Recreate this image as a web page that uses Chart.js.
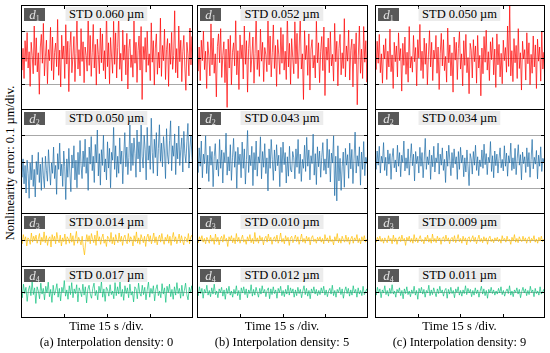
<!DOCTYPE html>
<html>
<head>
<meta charset="utf-8">
<script src="https://cdn.jsdelivr.net/npm/chart.js@4.4.1/dist/chart.umd.min.js"></script>
<style>
  body { margin: 0; background: #fff; font-family: "Liberation Serif", "Times New Roman", serif; }
  #wrap { position: relative; width: 550px; height: 353px; overflow: hidden; }
  .panel { position: absolute; }
  .panel canvas { position: absolute; left: 0; top: 0; }
  .dtag { position: absolute; width: 21px; height: 13px; background: #585858; color: #e4e4e4;
          font-size: 13px; line-height: 13px; text-align: center; font-style: italic; }
  .dtag sub { font-size: 8px; font-style: normal; vertical-align: -2px; }
  .std { position: absolute; height: 14px; line-height: 14px; background: #ececec; color: #000;
         font-size: 12.5px; padding: 0 4px; white-space: nowrap; transform: translateX(-50%); }
  .cap { position: absolute; font-size: 12.5px; white-space: nowrap; transform: translate(-50%, -50%); color: #000; }
  #ylab { position: absolute; left: 10px; top: 163px; font-size: 12.5px; white-space: nowrap;
          transform: translate(-50%, -50%) rotate(-90deg); }
</style>
</head>
<body>
<div id="wrap">
  <div id="ylab">Nonlinearity error: 0.1 µm/div.</div>
</div>
<script>
// nonlinearity error samples, in nm (0.001 µm), 60 s per panel
const d1A = [12,-48,35,-80,64,-15,95,-40,22,-110,58,8,-62,120,-30,75,-55,18,-140,40,
  88,-22,130,-70,5,66,-100,30,-12,115,-50,78,-85,20,55,-35,145,-68,28,-112,
  85,-6,44,-80,125,-25,62,-130,38,98,-58,4,80,-92,16,155,-44,30,-70,110,
  -15,60,-96,40,8,-52,170,-30,84,-72,20,126,-40,50,-105,70,12,-62,112,-20,
  90,-50,26,-82,185,-35,56,-100,76,2,-60,138,-26,94,-78,38,165,-45,16,-90,
  104,-10,48,-66,92,-120,34,70,-38,10,-75,140,-22,58,-95,26,82,-48,118,-160,
  42,-8,76,-56,100,-30,14,-88,132,-18,64,-105,36,90,-64,20,-40,150,-72,46,
  -12,108,-84,30,72,-110,54,-26,96,-45,8,178,-58,34,-78,120,-16,66,-92,22,
  84,-36,-125,58,14,-70,112,-28,80,-52];
const d2A = [-20,-60,10,-85,-15,-120,5,-45,-140,-5,-70,25,-95,-30,-135,0,-50,35,-80,-10,
  -110,15,-55,-100,20,-35,-75,45,-25,-90,-5,-45,55,-65,-15,-125,30,-30,70,-55,
  -10,-95,40,-20,-145,10,-60,50,-40,-115,25,-25,60,-70,5,-100,35,-50,80,-15,
  -65,40,-20,85,-45,15,-110,55,-10,95,-35,20,-80,65,-5,120,-55,30,-90,45,
  -15,100,-40,10,-70,75,-25,50,-100,35,5,130,-30,60,-60,20,-45,90,-10,40,
  -85,25,110,-20,55,-50,15,140,-35,70,
  -15,90,30,-60,120,10,75,-40,150,20,-25,100,45,-70,130,5,60,-30,165,35,
  -45,85,15,110,-55,50,140,0,70,-20,95,40,-65,125,25,-10,80,155,-35,60,
  20,105,-50,70,10,135,-15,45,90,-40,115,30,-5,75,145,-25,55,100,15,-30];
const d3A = [6,-14,20,-4,12,-22,8,2,-16,26,-8,14,-2,18,-12,4,24,-18,10,-6,
  30,-10,16,-20,6,12,-26,20,-4,14,-14,28,2,-10,18,-22,8,-6,22,-16,
  12,4,-12,26,-8,16,-20,6,32,-12,10,-2,-18,14,-28,-55,-10,20,-6,16,
  -14,24,4,-10,18,-20,34,-4,12,-16,8,22,-12,2,-24,14,6,-8,28,-14,
  10,-18,20,0,-10,26,-6,14,-20,8,18,-4,-14,24,-8,12,2,-22,16,-6,
  30,-12,8,-16,20,4,-10,14,-24,10,22,-6,16,-14,4,26,-10,12,-18,6,
  18,-8,24,-2,-16,10,-4,20,-12,14,-20,8,28,-6,12,-14,2,22,-10,16,
  -4,-18,12,6,-8,24,-14,10,18,-6];
const d4A = [12,-22,30,-6,18,-36,8,24,-14,40,-10,16,-44,20,4,-26,34,-8,14,-30,
  22,-4,38,-18,10,-40,26,-12,6,32,-20,14,-34,18,-2,44,-16,8,-28,24,
  -10,36,-22,12,-6,28,-38,16,2,-18,30,-12,20,-42,10,26,-8,-24,14,34,
  -14,6,-30,22,-4,40,-20,12,-36,18,8,-16,28,-10,4,-26,36,-14,20,-8,
  42,-18,10,-32,24,-6,16,-22,30,-12,2,-38,20,12,-26,34,-4,-16,26,-10,
  18,-30,8,38,-20,14,-6,24,-34,10,28,-14,4,-22,32,-8,16,-40,22,-2,
  30,-18,10,-28,20,-12,36,-6,14,-24,26,-16,6,34,-10,-30,18,-4,24,-20];

const d1B = [18,-52,40,-88,66,-12,100,-46,24,-118,60,6,-70,128,-28,74,-60,14,-150,42,
  90,-20,110,-76,8,60,-96,32,-190,70,-40,84,-104,20,56,-32,140,-66,26,-122,
  86,-4,48,-82,120,-26,64,-132,34,96,-56,2,78,-98,16,160,-46,28,-72,108,
  -14,58,-92,38,10,-54,150,-28,82,-74,18,124,-42,46,-110,68,10,-64,114,-22,
  88,-48,24,-84,170,-36,54,-102,72,0,-62,136,-24,92,-80,36,155,-44,14,-160,
  102,-8,46,-68,90,-124,32,68,-40,8,-78,138,-20,56,-96,24,80,-50,116,-145,
  40,-10,74,-58,98,-32,12,-90,130,-16,62,-108,34,88,-66,18,-42,148,-74,44,
  -14,104,-86,28,70,-112,52,-24,94,-180,6,120,-60,32,-80,118,-18,64,-94,20];
const d2B = [14,-42,52,-18,78,-62,28,-8,98,-46,24,-76,58,-14,38,-96,18,68,-32,8,
  -56,84,-26,44,-82,34,-4,108,-52,18,-36,64,-72,14,88,-22,38,-102,54,-12,
  28,-62,74,-26,48,-86,8,118,-42,24,-16,58,-92,34,-32,78,-56,18,-6,94,
  -66,38,-22,68,-46,14,-112,48,-26,84,8,-72,44,-36,64,-16,24,-96,54,-42,
  74,-12,34,-82,18,-56,58,-32,-40,38,14,-66,48,-22,84,-46,28,-76,8,-26,
  62,-38,92,-18,44,-70,22,-8,104,-52,30,-88,56,-20,40,-60,16,72,-34,10,
  -48,86,-24,46,-78,32,-6,98,-130,20,-150,60,-74,12,-110,-20,36,-98,50,-14,
  26,-64,70,-28,46,-84,10,112,-44,22,-18,56,-90,36,-30,76,-54,16,-8,50];
const d3B = [4,-10,12,-3,16,-8,6,-14,10,0,-12,18,-5,8,-16,22,-6,10,-18,4,
  14,-8,20,-4,6,-24,12,-2,16,-10,8,-14,24,-6,10,-12,4,18,-8,2,
  -16,12,-4,20,-10,6,-14,28,-6,8,-12,16,-2,10,-18,6,14,-8,22,-4,
  10,-16,4,12,-6,18,-12,2,26,-8,6,-14,16,-4,10,-20,8,14,-10,4,
  18,-6,12,-16,2,22,-8,6,-12,14,-4,10,-18,8,16,-6,4,-12,10,-2,
  12,-8,6,-14,20,-2,8,-10,16,-6,2,-18,12,-4,24,-10,6,-12,14,0,
  -8,18,-6,10,-16,4,14,-12,8,-2,20,-10,6,-14,12,-4,16,-8,2,-6];
const d4B = [8,-14,20,-6,14,-24,10,-4,26,-12,6,-18,16,-8,30,-10,4,-22,12,-2,
  18,-16,8,-28,14,-6,22,-12,4,-20,10,-8,24,-14,6,-30,16,-4,20,-10,
  12,-22,8,-6,28,-16,10,-12,18,-2,-20,14,-8,24,-4,10,-18,6,16,-26,
  12,-10,20,-6,8,-24,14,-2,22,-14,6,-18,10,-8,26,-12,16,-4,12,-20,
  8,-14,18,-6,10,-22,4,24,-10,14,-16,6,-26,12,-4,20,-8,10,-14,6,
  -10,16,-4,22,-12,8,-18,4,14,-8,26,-14,6,-20,10,-2,18,-10,12,-24,
  4,20,-6,14,-16,8,-12,24,-4,10,-20,16,-8,6,-14,22,-10,2,12,-18];

const d1C = [28,-46,62,-22,88,-58,14,-98,48,-6,72,-84,24,-36,108,-54,10,-118,58,-16,
  44,-74,94,-12,34,-128,54,-30,78,-64,20,-94,118,-40,4,-56,84,-16,38,-108,
  68,-2,126,-50,24,-80,74,-26,54,-104,10,102,-36,58,-88,28,-6,84,-60,40,
  -122,14,92,-32,68,-50,4,-94,112,-20,48,-70,18,-132,78,-10,58,-84,34,98,
  -44,14,-108,64,-30,88,-58,0,-138,54,28,-78,68,-16,44,-98,84,-40,8,-146,
  36,-62,80,-18,104,-48,22,-88,60,-8,76,-66,32,-114,90,-28,50,-74,16,-100,
  66,-12,38,-56,120,-34,200,-70,26,-92,72,-20,46,-80,110,-42,18,-124,62,-6,
  30,-86,94,-24,56,-104,12,-60,82,-36,48,-118,70,-14,40,-90,100,-44,20,-150];
const d2C = [10,-30,40,-14,58,-44,20,-6,72,-34,16,-54,44,-10,30,-68,14,50,-24,6,
  -40,62,-18,34,-58,24,-4,78,-36,14,-26,48,-52,10,68,-16,28,-74,38,-8,
  20,-44,54,-18,34,-62,6,88,-30,18,-12,44,-68,24,-20,58,-40,14,-4,70,
  -48,28,-14,52,-34,8,-80,40,-18,62,4,-54,34,-24,48,-10,18,-68,38,-30,
  54,-6,24,-58,14,-40,44,-20,-92,30,10,-48,38,-14,62,-34,18,-54,6,-20,
  44,-26,66,-12,30,-50,16,-4,76,-38,22,-62,40,-16,28,-44,12,52,-24,8,
  -36,60,-18,32,-56,22,-6,70,-34,14,-28,50,-50,10,64,-14,26,-70,36,-8,
  18,-42,52,-20,34,-60,8,84,-28,16,-10,42,-66,24,-18,56,-38,12,-2,30];
const d3C = [4,-8,10,-2,14,-6,6,-12,8,0,-10,16,-4,6,-14,18,-6,8,-16,4,
  12,-6,18,-4,6,-20,10,-2,14,-8,6,-12,20,-6,8,-10,4,16,-6,2,
  -14,10,-4,18,-8,6,-12,22,-6,6,-10,14,-2,8,-16,6,12,-6,18,-4,
  8,-14,4,10,-6,16,-10,2,20,-6,6,-12,14,-4,8,-18,6,12,-8,4,
  16,-6,10,-14,2,18,-6,6,-10,12,-4,8,-16,6,14,-6,4,-10,8,-2,
  10,-6,4,-12,16,-2,6,-8,14,-4,2,-16,10,-4,20,-8,6,-10,12,0,
  -6,14,-4,8,-12,4,12,-10,6,-2,16,-8,4,-12,10,-4,14,-6,2,-4];
const d4C = [6,-12,18,-4,12,-22,8,-4,24,-10,6,-16,14,-6,28,-8,4,-20,10,-2,
  16,-14,6,-26,12,-6,20,-10,4,-18,8,-6,22,-12,6,-28,14,-4,18,-8,
  10,-20,6,-4,26,-14,8,-10,16,-2,-18,12,-6,22,-4,8,-16,6,14,-24,
  10,-8,18,-6,6,-22,12,-2,20,-12,6,-16,8,-6,24,-10,14,-4,10,-18,
  6,-12,16,-6,8,-20,4,22,-8,12,-14,6,-24,10,-4,18,-6,8,-12,4,
  -8,14,-4,20,-10,6,-16,2,12,-6,24,-12,4,-18,8,-2,16,-8,10,-22,
  2,18,-4,12,-14,6,-10,22,-2,8,-18,14,-6,4,-12,20,-8,0,10,-16];

const stdA = ['0.060', '0.050', '0.014', '0.017'];
const stdB = ['0.052', '0.043', '0.010', '0.012'];
const stdC = ['0.050', '0.034', '0.009', '0.011'];
const captions = ['(a) Interpolation density: 0', '(b) Interpolation density: 5', '(c) Interpolation density: 9'];
const timeTicks = [15, 30, 45];

const columns = [
  { left: 21, right: 192, series: [d1A, d2A, d3A, d4A], std: stdA, caption: captions[0] },
  { left: 197, right: 367, series: [d1B, d2B, d3B, d4B], std: stdB, caption: captions[1] },
  { left: 375, right: 544, series: [d1C, d2C, d3C, d4C], std: stdC, caption: captions[2] }
];
const rows = [
  { top: 5, bottom: 109, range: 200, grid: [-100, 0, 100], color: '#ff0000' },
  { top: 109, bottom: 213, range: 200, grid: [-100, 0, 100], color: '#1c6ba6' },
  { top: 213, bottom: 266, range: 100, grid: [0], color: '#ffbe00' },
  { top: 266, bottom: 317, range: 100, grid: [0], color: '#0fc07c' }
];

const frame = {
  id: 'frame',
  beforeDatasetsDraw(chart, args, opts) {
    const { ctx, chartArea: a, scales: { y } } = chart;
    ctx.save();
    ctx.lineWidth = 1;
    ctx.strokeStyle = '#a8a8a8';
    opts.grid.forEach(v => {
      const py = Math.round(y.getPixelForValue(v)) + 0.5;
      ctx.beginPath(); ctx.moveTo(a.left, py); ctx.lineTo(a.right, py); ctx.stroke();
    });
    ctx.restore();
  },
  afterDraw(chart, args, opts) {
    const { ctx, chartArea: a, scales: { x, y } } = chart;
    ctx.save();
    ctx.lineWidth = 1;
    ctx.strokeStyle = '#000';
    // tick marks on both sides
    opts.grid.forEach(v => {
      const py = Math.round(y.getPixelForValue(v)) + 0.5;
      ctx.beginPath();
      ctx.moveTo(a.left, py); ctx.lineTo(a.left + 4, py);
      ctx.moveTo(a.right - 4, py); ctx.lineTo(a.right, py);
      ctx.stroke();
    });
    timeTicks.forEach(t => {
      const px = Math.round(x.getPixelForValue(t)) + 0.5;
      ctx.beginPath();
      if (opts.top) { ctx.moveTo(px, a.top); ctx.lineTo(px, a.top + 4); }
      if (opts.bottom) { ctx.moveTo(px, a.bottom); ctx.lineTo(px, a.bottom - 4); }
      ctx.stroke();
    });
    ctx.strokeRect(a.left + 0.5, a.top + 0.5, a.right - a.left - 1, a.bottom - a.top - 1);
    ctx.restore();
  }
};

const wrap = document.getElementById('wrap');

columns.forEach(col => {
  const w = col.right - col.left + 1;
  rows.forEach((row, r) => {
    const h = row.bottom - row.top + 1;
    const div = document.createElement('div');
    div.className = 'panel';
    div.style.left = col.left + 'px';
    div.style.top = row.top + 'px';
    div.style.width = w + 'px';
    div.style.height = h + 'px';
    const canvas = document.createElement('canvas');
    canvas.width = w; canvas.height = h;
    canvas.style.width = w + 'px'; canvas.style.height = h + 'px';
    div.appendChild(canvas);
    wrap.appendChild(div);

    const values = col.series[r];
    new Chart(canvas.getContext('2d'), {
      type: 'line',
      data: {
        datasets: [{
          data: values.map((v, i) => ({ x: i * 60 / (values.length - 1), y: v })),
          borderColor: row.color,
          borderWidth: 0.7,
          pointRadius: 0,
          tension: 0
        }]
      },
      options: {
        responsive: false,
        animation: false,
        events: [],
        layout: { padding: 0 },
        plugins: {
          legend: { display: false },
          tooltip: { enabled: false },
          frame: { grid: row.grid, top: r === 0, bottom: r === rows.length - 1 }
        },
        scales: {
          x: { type: 'linear', min: 0, max: 60, display: false },
          y: { min: -row.range, max: row.range, display: false }
        }
      },
      plugins: [frame]
    });

    const tag = document.createElement('div');
    tag.className = 'dtag';
    tag.style.left = (col.left + 3) + 'px';
    tag.style.top = (row.top + 3) + 'px';
    tag.innerHTML = '<i>d</i><sub>' + (r + 1) + '</sub>';
    wrap.appendChild(tag);

    const std = document.createElement('div');
    std.className = 'std';
    std.style.left = ((col.left + col.right) / 2) + 'px';
    std.style.top = (row.top + 2) + 'px';
    std.textContent = 'STD ' + col.std[r] + ' µm';
    wrap.appendChild(std);
  });

  const cx = (col.left + col.right) / 2;
  const t1 = document.createElement('div');
  t1.className = 'cap';
  t1.style.left = cx + 'px'; t1.style.top = '326px';
  t1.textContent = 'Time 15 s /div.';
  wrap.appendChild(t1);
  const t2 = document.createElement('div');
  t2.className = 'cap';
  t2.style.left = cx + 'px'; t2.style.top = '342px';
  t2.textContent = col.caption;
  wrap.appendChild(t2);
});
</script>
</body>
</html>
